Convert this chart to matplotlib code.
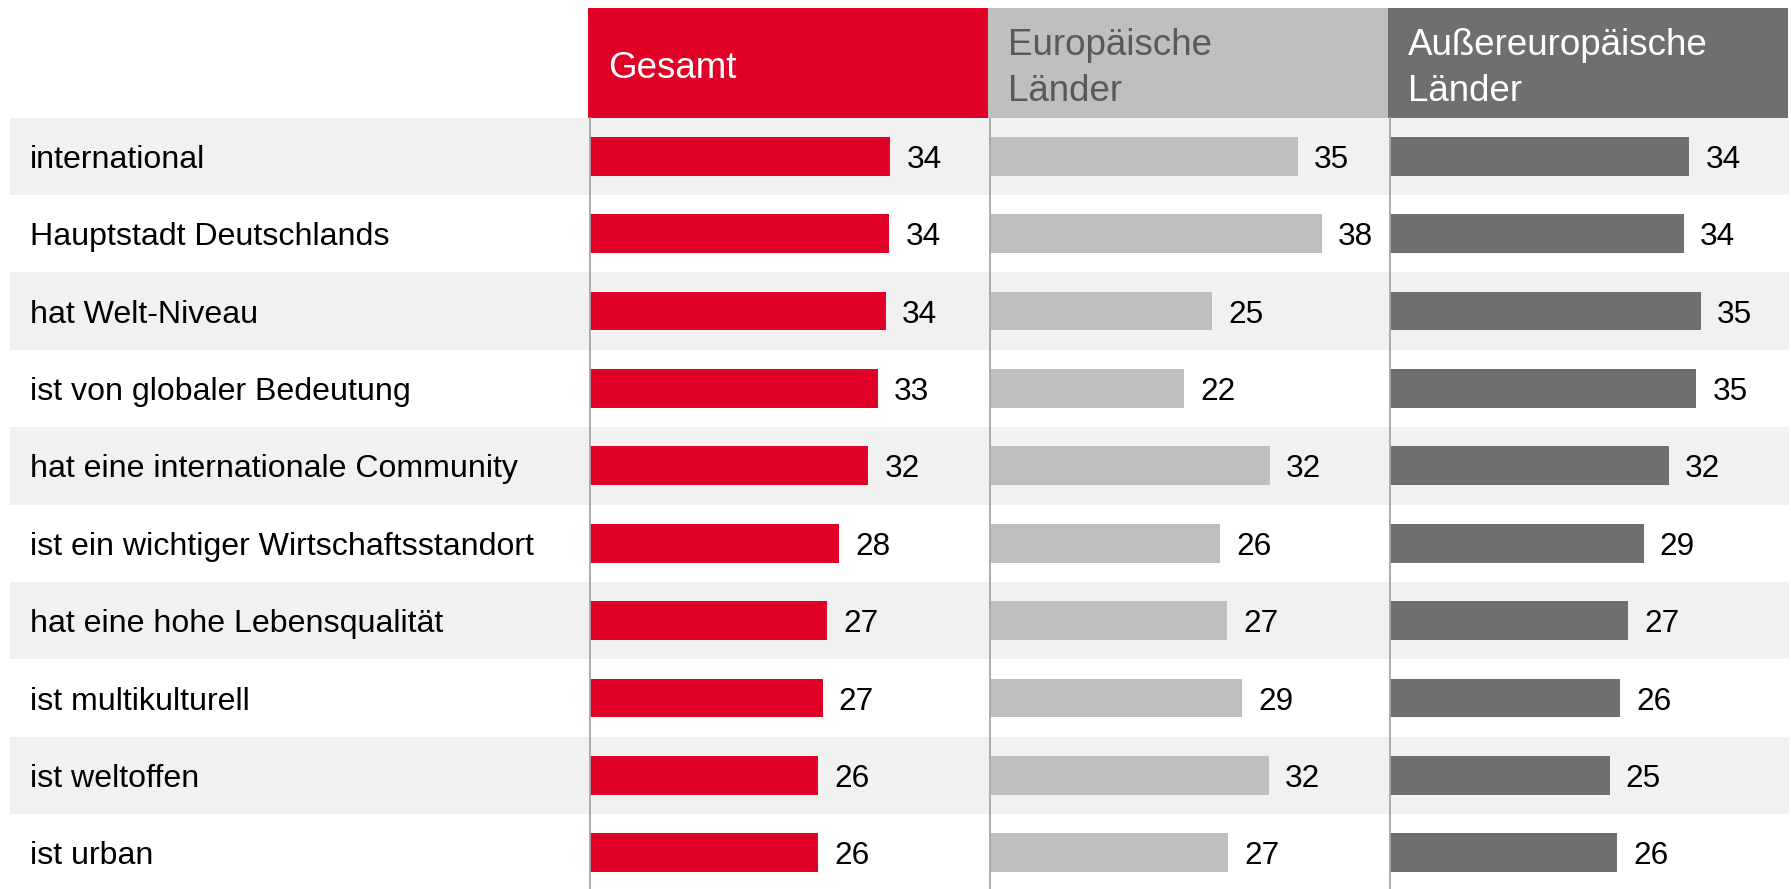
import matplotlib
matplotlib.use("Agg")
import matplotlib.pyplot as plt

plt.rcParams['font.family'] = ['Liberation Sans', 'DejaVu Sans']

# ---------------- data ----------------
categories = [
    "international",
    "Hauptstadt Deutschlands",
    "hat Welt-Niveau",
    "ist von globaler Bedeutung",
    "hat eine internationale Community",
    "ist ein wichtiger Wirtschaftsstandort",
    "hat eine hohe Lebensqualität",
    "ist multikulturell",
    "ist weltoffen",
    "ist urban",
]
gesamt = [34.2, 34.1, 33.7, 32.8, 31.7, 28.4, 27.0, 26.5, 26.0, 26.0]
europa = [35.1, 37.8, 25.3, 22.1, 31.9, 26.2, 27.0, 28.7, 31.8, 27.1]
aussereuropa = [34.1, 33.5, 35.4, 34.9, 31.8, 28.9, 27.1, 26.2, 25.0, 25.9]
gesamt_labels = ["34", "34", "34", "33", "32", "28", "27", "27", "26", "26"]
europa_labels = ["35", "38", "25", "22", "32", "26", "27", "29", "32", "27"]
aussereuropa_labels = ["34", "34", "35", "35", "32", "29", "27", "26", "25", "26"]
headers = ["Gesamt", "Europäische\nLänder", "Außereuropäische\nLänder"]

# ---------------- style ----------------
RED = "#E10026"
LGRAY = "#BFBFBF"
DGRAY = "#6F6F6F"
BAND = "#F1F1F1"
W, H = 1791, 889
fig = plt.figure(figsize=(W / 100, H / 100), dpi=100)
fig.patch.set_facecolor("white")

def rect(x0, y0, w, h):
    """pixel box (top-left origin) -> figure fraction [l, b, w, h]"""
    return [x0 / W, (H - y0 - h) / H, w / W, h / H]

top = 117.5
row_h = 77.4
n = len(categories)
ybot = -0.5 + (H - top) / row_h
xmax = 400 / 8.78

# background bands + category labels
bg = fig.add_axes(rect(10, top, 1779, H - top))
bg.set_xlim(0, 1779)
bg.set_ylim(ybot, -0.5)
bg.axis("off")
for i in range(n):
    if i % 2 == 0:
        bg.axhspan(i - 0.5, i + 0.5, color=BAND, lw=0)
    bg.text(20, i, categories[i], fontsize=23.1, va="center_baseline",
            ha="left", color="black")

cols = [
    (gesamt, gesamt_labels, RED, headers[0], RED, "white"),
    (europa, europa_labels, LGRAY, headers[1], LGRAY, "#595959"),
    (aussereuropa, aussereuropa_labels, DGRAY, headers[2], DGRAY, "white"),
]
x_starts = [590, 990, 1390]
for (vals, labs, color, head, hcol, tcol), x0 in zip(cols, x_starts):
    # header box
    hax = fig.add_axes(rect(x0 - 2, 8, 400, top - 8))
    hax.set_facecolor(hcol)
    for s in hax.spines.values():
        s.set_visible(False)
    hax.set_xticks([])
    hax.set_yticks([])
    hax.text(20 / 400, 0.45, head, transform=hax.transAxes, fontsize=26.5,
             color=tcol, va="center", ha="left", linespacing=1.4)

    ax = fig.add_axes(rect(x0, top, 400, H - top))
    ax.patch.set_alpha(0)
    ax.barh(range(n), vals, height=0.5, color=color, lw=0)
    ax.set_xlim(0, xmax)
    ax.set_ylim(ybot, -0.5)
    for s in ["top", "right", "bottom"]:
        ax.spines[s].set_visible(False)
    ax.spines["left"].set_color("#A6A6A6")
    ax.spines["left"].set_linewidth(1.3)
    ax.set_xticks([])
    ax.set_yticks([])
    for i, (v, lab) in enumerate(zip(vals, labs)):
        ax.annotate(lab, xy=(v, i), xytext=(16, 0), textcoords="offset pixels",
                    va="center_baseline", ha="left", fontsize=22.7, color="black")

fig.savefig("out.png", dpi=100)
